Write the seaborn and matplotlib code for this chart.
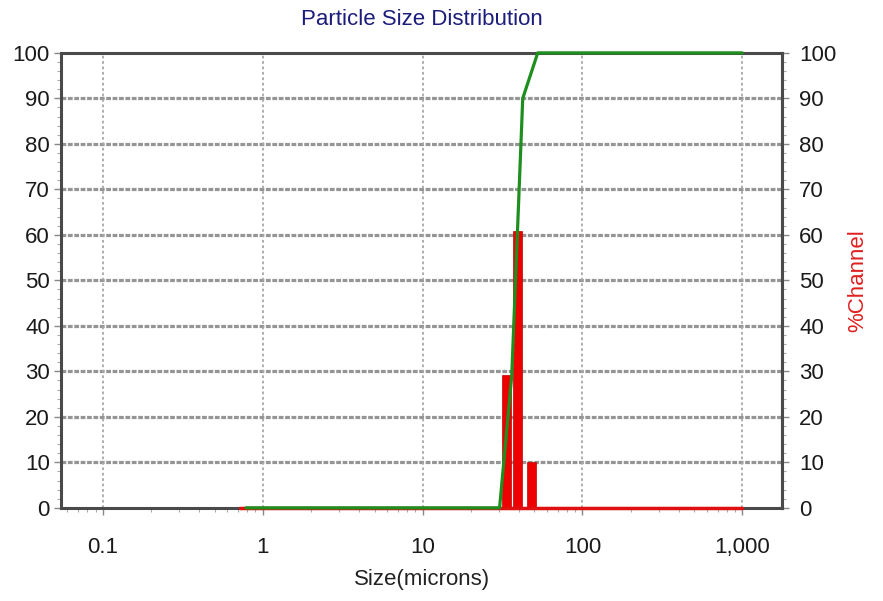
import numpy as np
import pandas as pd
import matplotlib
matplotlib.use("Agg")
import matplotlib.pyplot as plt
import seaborn as sns
from matplotlib.ticker import MultipleLocator, LogLocator, NullFormatter

# channel data
bar_sizes = [33.3, 39.3, 48.1]          # microns, channel centres
bar_pct = [29.2, 60.8, 10.0]            # %Channel

cum_sizes = [0.786, 30.3, 36.1, 42.3, 52.5, 1000]
cum_pct = [0, 0, 29, 90, 100, 100]     # cumulative % passing

base_sizes = [0.72, 1000]
base_pct = [0, 0]

x_ticks = [0.1, 1, 10, 100, 1000]
x_labels = ["0.1", "1", "10", "100", "1,000"]
y_ticks = list(range(0, 101, 10))

sns.set_theme(style="white")
plt.rcParams['font.family'] = ['Liberation Sans', 'DejaVu Sans']

fig = plt.figure(figsize=(8.83, 6.01), dpi=100)
ax = fig.add_axes([0.069, 0.155, 0.817, 0.757])
ax.set_xscale("log")
ax.set_xlim(0.0546, 1780)
ax.set_ylim(0, 100)

ax2 = ax.twinx()
ax2.set_ylim(0, 100)

# grid
for y in y_ticks[1:-1]:
    ax.axhline(y, color="#959595", lw=2.3, ls=(0, (1.5, 0.5)), zorder=0)
for x in x_ticks:
    ax.axvline(x, color="#a8a8a8", lw=1.3, ls=(0, (1.5, 1.5)), zorder=0)

# baseline of the channel histogram
sns.lineplot(x=base_sizes, y=base_pct, ax=ax2, color="#e01010", lw=2.5,
             zorder=4, clip_on=False)

# %Channel bars (about 0.75 of a channel wide on the log axis)
half = 10 ** (4.5 / 159.75)
lefts = [s / half for s in bar_sizes]
widths = [s * half - s / half for s in bar_sizes]
ax2.bar(lefts, bar_pct, width=widths, align="edge", color="#ee0000",
        edgecolor="#c00000", lw=0.5, zorder=3)

# cumulative curve
cum = pd.DataFrame({"size": cum_sizes, "pct": cum_pct})
sns.lineplot(data=cum, x="size", y="pct", ax=ax2, color="#1e8f1e", lw=2.3,
             zorder=5, sort=False, clip_on=False)
ax2.set_xlabel("")

ax.set_xticks(x_ticks)
ax.set_xticklabels(x_labels)
ax.xaxis.set_minor_locator(LogLocator(base=10, subs=np.arange(2, 10)))
ax.xaxis.set_minor_formatter(NullFormatter())
ax.set_yticks(y_ticks)
ax.yaxis.set_minor_locator(MultipleLocator(2))
ax.set_xlabel("Size(microns)", fontsize=16, color="#222222", labelpad=8)
ax.set_ylabel("")

ax2.set_yticks(y_ticks)
ax2.yaxis.set_minor_locator(MultipleLocator(2))
ax2.set_ylabel("%Channel", color="#e02020", fontsize=16, labelpad=8)

for sp in ax.spines.values():
    sp.set_color("#4a4a4a")
    sp.set_linewidth(2.2)
    sp.set_zorder(1)
for name, sp in ax2.spines.items():
    sp.set_visible(name == "right")
    sp.set_color("#4a4a4a")
    sp.set_linewidth(2.2)
    sp.set_zorder(1)

for a in (ax, ax2):
    a.tick_params(which="major", direction="out", length=5, width=1,
                  color="#888888", labelsize=16, labelcolor="#1a1a1a", pad=3)
    a.tick_params(which="minor", direction="out", length=3, width=0.8,
                  color="#aaaaaa")
ax.tick_params(axis="x", which="major", pad=16)
ax.tick_params(axis="y", which="both", left=True, right=False)
ax.tick_params(axis="x", which="both", bottom=True)
ax2.tick_params(axis="y", which="both", right=True, left=False)
ax2.tick_params(axis="y", which="major", pad=7)

fig.suptitle("Particle Size Distribution", x=0.478, y=0.985, fontsize=16,
             color="#1c1c7c")

fig.savefig("out.png", dpi=100)
